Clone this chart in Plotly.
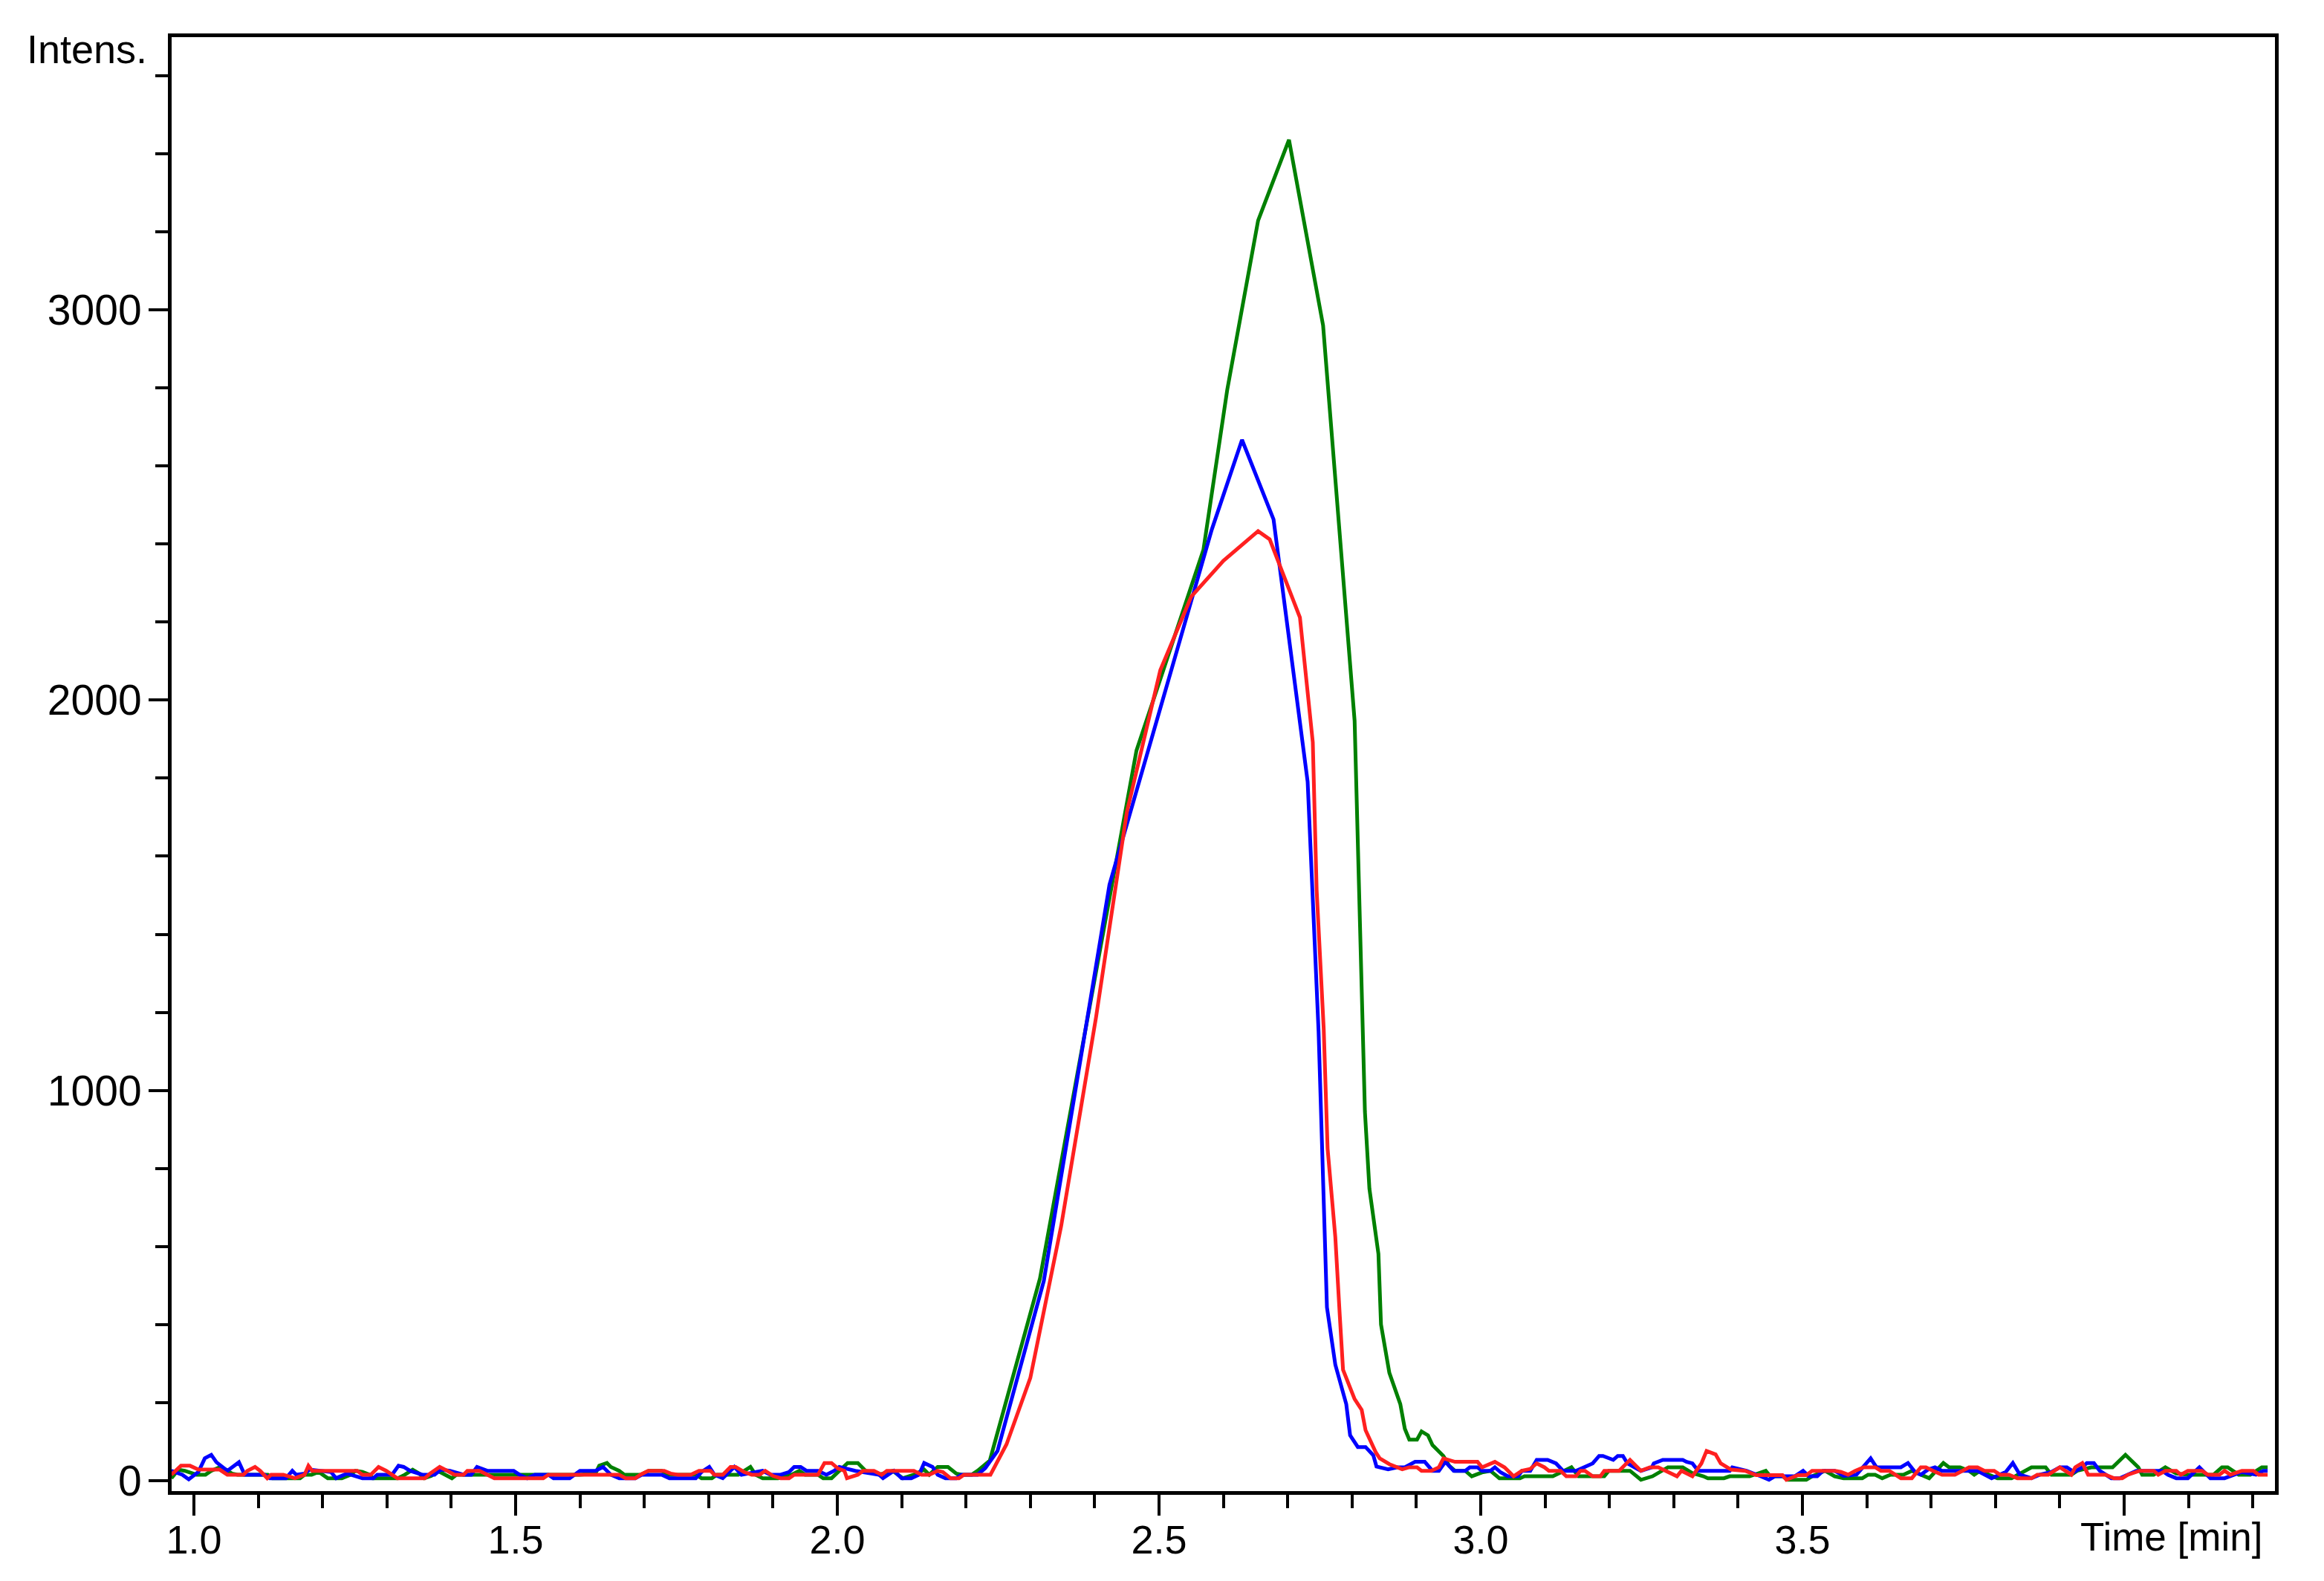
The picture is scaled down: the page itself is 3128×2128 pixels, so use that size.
import plotly.graph_objects as go

# ---------------- data ----------------
green_t = [0.965, 0.976, 0.986, 0.997, 1.004, 1.018, 1.027, 1.041, 1.050, 1.059, 1.068, 1.093, 1.115, 1.122,
           1.165, 1.172, 1.183, 1.194, 1.208, 1.230, 1.244, 1.251, 1.262, 1.273, 1.278, 1.317, 1.328, 1.340,
           1.350, 1.358, 1.369, 1.379, 1.390, 1.401, 1.408, 1.441, 1.497, 1.530, 1.584,
           1.599, 1.624, 1.630, 1.642, 1.648, 1.661, 1.669, 1.694, 1.707, 1.727, 1.739, 1.780, 1.789, 1.805,
           1.813, 1.846, 1.857, 1.865, 1.873, 1.884, 1.908, 1.929, 1.941, 1.950, 1.970, 1.978, 1.991, 2.011,
           2.016, 2.032, 2.044, 2.065, 2.086, 2.102, 2.119, 2.135, 2.143, 2.156, 2.172, 2.185, 2.193, 2.209,
           2.218, 2.237, 2.315, 2.465, 2.569, 2.606, 2.654, 2.702, 2.755, 2.804, 2.820, 2.827, 2.841, 2.845,
           2.858, 2.875, 2.882, 2.889, 2.901, 2.908, 2.918, 2.925, 2.942, 2.951, 2.960, 2.976, 2.986, 3.002,
           3.015, 3.029, 3.061, 3.068, 3.112, 3.141, 3.152, 3.192, 3.199, 3.232, 3.249, 3.267, 3.291, 3.314,
           3.329, 3.346, 3.353, 3.378, 3.387, 3.418, 3.443, 3.450, 3.469, 3.477, 3.506, 3.515, 3.535, 3.550,
           3.564, 3.593, 3.602, 3.613, 3.624, 3.637, 3.657, 3.670, 3.684, 3.697, 3.719, 3.728, 3.745, 3.759,
           3.767, 3.776, 3.790, 3.803, 3.825, 3.843, 3.856, 3.878, 3.887, 3.918, 3.927, 3.949, 3.982, 4.002,
           4.022, 4.028, 4.046, 4.064, 4.081, 4.099, 4.139, 4.152, 4.161, 4.178, 4.196, 4.214, 4.223]
green_v = [6, 28, 25, 18, 15, 15, 25, 35, 28, 18, 15, 15, 15, 6,
           6, 15, 15, 22, 6, 6, 15, 25, 22, 15, 6, 6, 15, 28,
           18, 6, 12, 25, 15, 6, 15, 15, 15, 15, 15,
           15, 18, 38, 45, 35, 25, 15, 15, 25, 25, 15, 15, 6, 6,
           15, 15, 28, 35, 15, 6, 6, 15, 25, 15, 15, 6, 6, 35,
           45, 45, 25, 15, 25, 6, 15, 28, 15, 35, 35, 18, 15, 15,
           25, 51, 518, 1871, 2385, 2795, 3229, 3436, 2960, 1947, 946, 748, 581, 400,
           276, 196, 133, 105, 105, 126, 116, 91, 63, 38, 25, 25, 11, 21,
           25, 6, 6, 11, 11, 34, 11, 11, 25, 25, 2, 11, 34, 34,
           19, 11, 6, 6, 11, 11, 25, 11, 11, 2, 2, 11, 25, 11,
           6, 6, 15, 15, 6, 15, 15, 25, 15, 6, 45, 34, 34, 25,
           15, 25, 15, 6, 6, 22, 34, 34, 15, 15, 25, 34, 34, 66,
           34, 15, 15, 34, 18, 15, 15, 34, 34, 15, 15, 34, 34]

blue_t = [0.965, 0.982, 0.992, 1.007, 1.017, 1.027, 1.035, 1.052, 1.070, 1.079, 1.110, 1.118, 1.143, 1.153,
          1.159, 1.172, 1.180, 1.213, 1.221, 1.238, 1.262, 1.279, 1.285, 1.308, 1.318, 1.326, 1.336, 1.355,
          1.374, 1.384, 1.398, 1.419, 1.431, 1.440, 1.456, 1.497, 1.506, 1.518, 1.530, 1.551, 1.559, 1.584,
          1.600, 1.624, 1.636, 1.648, 1.661, 1.686, 1.696, 1.727, 1.739, 1.760, 1.780, 1.789, 1.801, 1.809,
          1.822, 1.840, 1.851, 1.884, 1.896, 1.912, 1.925, 1.933, 1.943, 1.952, 1.970, 1.983, 1.995, 2.003,
          2.028, 2.065, 2.071, 2.088, 2.100, 2.115, 2.127, 2.135, 2.148, 2.156, 2.168, 2.185, 2.193, 2.218,
          2.230, 2.249, 2.321, 2.423, 2.582, 2.629, 2.678, 2.731, 2.748, 2.761, 2.774, 2.791, 2.797, 2.809,
          2.821, 2.833, 2.838, 2.856, 2.870, 2.882, 2.898, 2.913, 2.925, 2.935, 2.945, 2.958, 2.976, 2.983,
          2.995, 3.002, 3.015, 3.022, 3.031, 3.042, 3.058, 3.064, 3.077, 3.087, 3.104, 3.117, 3.128, 3.148,
          3.162, 3.174, 3.184, 3.190, 3.206, 3.213, 3.221, 3.228, 3.239, 3.249, 3.266, 3.269, 3.283, 3.314,
          3.320, 3.329, 3.338, 3.387, 3.391, 3.413, 3.435, 3.448, 3.457, 3.488, 3.501, 3.510, 3.523, 3.532,
          3.550, 3.564, 3.584, 3.595, 3.606, 3.615, 3.653, 3.664, 3.675, 3.684, 3.695, 3.706, 3.717, 3.772,
          3.783, 3.794, 3.816, 3.827, 3.838, 3.856, 3.869, 3.887, 3.900, 3.911, 3.922, 3.935, 3.942, 3.953,
          3.962, 3.980, 3.993, 4.006, 4.019, 4.059, 4.068, 4.081, 4.099, 4.117, 4.134, 4.156, 4.170, 4.183,
          4.205, 4.216, 4.223]
blue_v = [25, 15, 3, 22, 57, 66, 47, 25, 47, 15, 15, 6, 6, 25,
          15, 18, 28, 22, 6, 18, 6, 6, 15, 15, 38, 35, 25, 15,
          15, 28, 25, 15, 15, 35, 25, 25, 15, 6, 15, 15, 6, 6,
          25, 25, 35, 15, 6, 6, 15, 15, 6, 6, 6, 22, 35, 15,
          6, 35, 15, 25, 15, 15, 22, 35, 35, 25, 25, 15, 25, 35,
          25, 15, 6, 25, 6, 6, 15, 45, 35, 15, 6, 6, 15, 15,
          32, 76, 512, 1527, 2437, 2667, 2463, 1791, 1150, 444, 297, 196, 116, 86,
          86, 65, 36, 29, 34, 34, 48, 48, 25, 25, 48, 25, 25, 34,
          34, 25, 25, 34, 21, 11, 11, 25, 25, 53, 53, 44, 25, 25,
          34, 44, 63, 63, 53, 63, 63, 44, 34, 25, 34, 44, 53, 53,
          48, 44, 25, 25, 34, 25, 11, 2, 11, 11, 25, 11, 11, 25,
          25, 12, 15, 37, 57, 34, 34, 45, 22, 15, 28, 34, 25, 25,
          15, 6, 22, 45, 15, 6, 15, 22, 34, 34, 22, 34, 45, 45,
          25, 6, 6, 15, 25, 25, 15, 6, 6, 34, 6, 6, 15, 22,
          15, 25, 25]

red_t = [0.965, 0.980, 0.994, 1.007, 1.040, 1.052, 1.077, 1.083, 1.095, 1.103, 1.114, 1.120, 1.139, 1.157,
         1.172, 1.178, 1.184, 1.254, 1.262, 1.275, 1.287, 1.299, 1.316, 1.359, 1.367, 1.382, 1.394, 1.405,
         1.419, 1.425, 1.444, 1.458, 1.467, 1.543, 1.551, 1.612,
         1.661, 1.671, 1.686, 1.694, 1.706, 1.731, 1.741, 1.752, 1.772, 1.785, 1.803, 1.809, 1.822, 1.834,
         1.842, 1.855, 1.867, 1.879, 1.888, 1.900, 1.912, 1.925, 1.933, 1.970, 1.980, 1.991, 2.001, 2.011,
         2.015, 2.032, 2.040, 2.057, 2.069, 2.077, 2.119, 2.131, 2.143, 2.156, 2.164, 2.176, 2.189, 2.197,
         2.238, 2.263, 2.300, 2.348, 2.402, 2.450, 2.502, 2.550, 2.600, 2.654, 2.672, 2.719, 2.739, 2.745,
         2.756, 2.762, 2.774, 2.781, 2.786, 2.804, 2.815, 2.821, 2.837, 2.843, 2.858, 2.878, 2.889, 2.901,
         2.908, 2.923, 2.935, 2.942, 2.960, 2.995, 3.002, 3.022, 3.037, 3.051, 3.064, 3.077, 3.087, 3.099,
         3.106, 3.124, 3.133, 3.148, 3.155, 3.162, 3.174, 3.186, 3.192, 3.215, 3.232, 3.249, 3.263, 3.276,
         3.288, 3.305, 3.312, 3.329, 3.343, 3.351, 3.365, 3.373, 3.389, 3.411, 3.428, 3.469, 3.475, 3.493,
         3.506, 3.515, 3.551, 3.560, 3.571, 3.582, 3.595, 3.613, 3.622, 3.635, 3.653, 3.670, 3.684, 3.692,
         3.703, 3.717, 3.737, 3.748, 3.759, 3.772, 3.783, 3.798, 3.807, 3.821, 3.834, 3.856, 3.865, 3.882,
         3.900, 3.918, 3.924, 3.935, 3.944, 3.971, 3.984, 3.997, 4.006, 4.024, 4.046, 4.053, 4.064, 4.081,
         4.088, 4.099, 4.121, 4.130, 4.148, 4.156, 4.165, 4.183, 4.201, 4.209, 4.223]
red_v = [15, 38, 38, 28, 28, 15, 15, 25, 35, 25, 6, 15, 15, 6,
         15, 38, 25, 25, 15, 15, 35, 25, 6, 6, 18, 35, 25, 15,
         15, 25, 25, 15, 6, 6, 15, 15,
         15, 6, 6, 15, 25, 25, 18, 15, 15, 25, 25, 15, 15, 35,
         35, 22, 15, 15, 25, 12, 6, 6, 15, 15, 45, 45, 31, 25,
         6, 15, 25, 25, 15, 25, 25, 15, 15, 25, 22, 6, 6, 15,
         15, 93, 263, 653, 1186, 1713, 2077, 2265, 2357, 2433, 2412, 2212, 1892, 1513,
         1157, 851, 624, 421, 284, 209, 181, 129, 72, 57, 42, 29, 34, 34,
         25, 25, 34, 57, 48, 48, 34, 48, 34, 11, 25, 30, 44, 34,
         25, 25, 11, 11, 25, 25, 11, 11, 25, 25, 53, 25, 34, 34,
         25, 11, 25, 11, 44, 76, 67, 44, 28, 25, 14, 14, 2, 14,
         14, 25, 25, 22, 15, 25, 34, 34, 25, 25, 6, 6, 34, 34,
         25, 15, 15, 25, 34, 34, 25, 25, 15, 15, 6, 6, 15, 15,
         34, 15, 34, 45, 15, 15, 6, 6, 15, 25, 25, 15, 25, 25,
         15, 25, 25, 15, 15, 25, 15, 25, 25, 15, 15]

x_tick_vals = [1.0, 1.5, 2.0, 2.5, 3.0, 3.5, 4.0]
x_tick_text = ["1.0", "1.5", "2.0", "2.5", "3.0", "3.5", ""]
y_tick_vals = [0, 1000, 2000, 3000]
y_tick_text = ["0", "1000", "2000", "3000"]

# ---------------- figure ----------------
# the page body adds an 8 px margin, so the figure is 8 px smaller/offset
OFF = 8
W, H = 3128 - OFF, 2128 - OFF
L, T = 231 - OFF, 50 - OFF
R = W - (3062 - OFF)
B = H - (2007 - OFF)
FONT = "Liberation Sans, Arial, sans-serif"

fig = go.Figure()
for xs, ys, col in [(green_t, green_v, "#008000"),
                    (blue_t, blue_v, "#0000FF"),
                    (red_t, red_v, "#FF2020")]:
    fig.add_trace(go.Scatter(x=xs, y=ys, mode="lines",
                             line=dict(color=col, width=5),
                             showlegend=False, hoverinfo="skip"))

pw = W - L - R
ph = H - T - B

def px_x(p):
    return (p - OFF - L) / pw

def px_y(p):
    return (H - B - (p - OFF)) / ph

fig.update_layout(
    width=W, height=H,
    margin=dict(l=L, r=R, t=T, b=B, pad=0),
    paper_bgcolor="white", plot_bgcolor="white",
    font=dict(family=FONT, size=54, color="black"),
    xaxis=dict(range=[0.9654, 4.2344], showgrid=False, zeroline=False,
               showline=True, linewidth=5, linecolor="black", mirror=True,
               ticks="outside", ticklen=28, tickwidth=4, tickcolor="black",
               tickvals=x_tick_vals, ticktext=x_tick_text,
               tickfont=dict(family=FONT, size=54), ticklabelstandoff=-14,
               minor=dict(dtick=0.1, tick0=1.0, ticks="outside", ticklen=18,
                          tickwidth=4, tickcolor="black", showgrid=False)),
    yaxis=dict(range=[-27, 3699], showgrid=False, zeroline=False,
               showline=True, linewidth=5, linecolor="black", mirror=True,
               ticks="outside", ticklen=26, tickwidth=4, tickcolor="black",
               tickvals=y_tick_vals, ticktext=y_tick_text,
               tickfont=dict(family=FONT, size=57), ticklabelstandoff=-2,
               minor=dict(dtick=200, tick0=0, ticks="outside", ticklen=17,
                          tickwidth=4, tickcolor="black", showgrid=False)),
    annotations=[
        dict(text="Intens.", xref="paper", yref="paper",
             x=px_x(200), y=px_y(66), xanchor="right", yanchor="middle",
             showarrow=False, font=dict(family=FONT, size=54)),
        dict(text="Time [min]", xref="paper", yref="paper",
             x=px_x(3047), y=px_y(2068), xanchor="right", yanchor="middle",
             showarrow=False, font=dict(family=FONT, size=53)),
    ],
)

fig.write_html("out.html")
